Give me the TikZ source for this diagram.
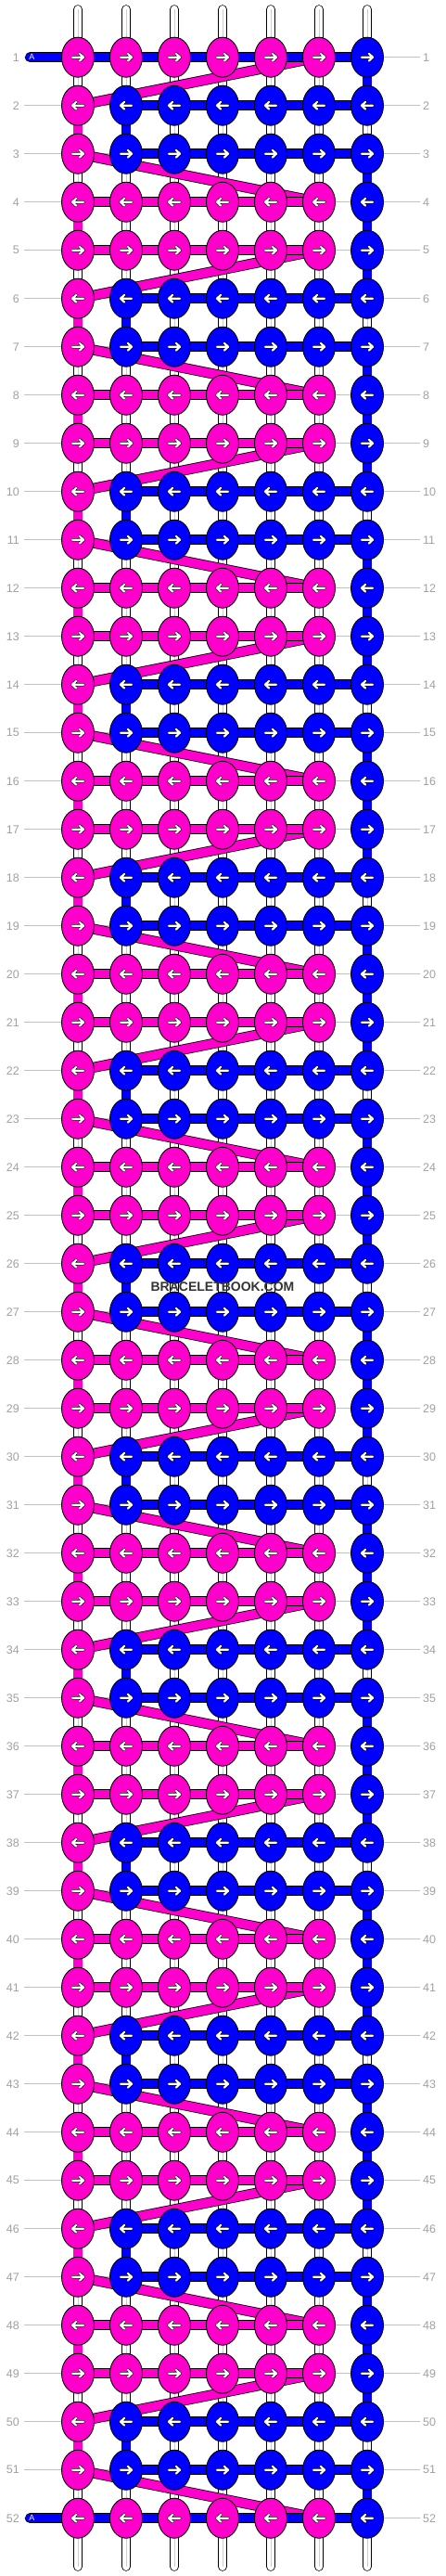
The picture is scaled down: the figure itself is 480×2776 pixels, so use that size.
\documentclass[tikz,border=0pt]{standalone}
\usepackage{fontspec}
\setmainfont{Liberation Sans}
\usepackage{tikz}
\usetikzlibrary{shapes.geometric}
\pgfdeclarelayer{strands}
\pgfdeclarelayer{bands}
\pgfdeclarelayer{links}
\pgfsetlayers{strands,bands,links,main}
\definecolor{braidpink}{RGB}{255,0,204}
\definecolor{braidblue}{RGB}{0,0,255}
\definecolor{labelgray}{RGB}{160,160,160}
\definecolor{linegray}{RGB}{192,192,192}
\definecolor{midgray}{RGB}{205,205,205}
\definecolor{markgray}{RGB}{51,51,51}
\tikzset{
	knot/.style={ellipse, draw=black, line width=0.9pt, minimum width=35pt, minimum height=43pt, inner sep=0pt},
	link/.style={draw=black, line width=0.8pt, double=#1, double distance=9.2pt},
	band/.style={draw=black, line width=0.8pt, double=braidpink, double distance=9.6pt},
	strand/.style={draw=black, line width=0.7pt, double=white, double distance=8.8pt, line cap=round},
	strandmid/.style={draw=midgray, line width=0.8pt},
	rowline/.style={draw=linegray, line width=0.9pt},
	rowlabel/.style={text=labelgray, font=\fontsize{12.5}{14}\selectfont, inner sep=0pt},
	arrowmark/.style={draw=black, line width=0.6pt, double=white, double distance=2.2pt, line cap=round, line join=round}
}
\newcommand\knotarrow[2]{\begin{scope}[shift={(#1.center)}, xscale=#2]
		\draw[arrowmark] (-6,0) -- (6,0) (2,-3.8) -- (6,0) -- (2,3.8);
	\end{scope}}

\begin{document}
\begin{tikzpicture}[x=1pt, y=-1pt]
	\useasboundingbox (0,0) rectangle (480,2776);
	
	\foreach \r in {1,...,52}{
		\pgfmathtruncatemacro\m{mod(\r-1,4)}
		\pgfmathsetmacro\y{61.7+52*(\r-1)}
		\pgfmathtruncatemacro\dir{ifthenelse(\m==0 || \m==2, 1, -1)}
		\foreach \c in {1,...,7}{
			\pgfmathsetmacro\x{84+52*(\c-1)}
			\pgfmathtruncatemacro\ispink{ifthenelse(\m==0 || \m==3, \c<7, \c==1)}
			\ifnum\ispink=1 \def\col{braidpink}\else\def\col{braidblue}\fi
			\node[knot, fill=\col] (k-\r-\c) at (\x,\y) {};
			\knotarrow{k-\r-\c}{\dir}
		}
		\node[rowlabel, anchor=east] (lbl-l-\r) at (21,\y) {\r};
		\node[rowlabel, anchor=west] (lbl-r-\r) at (456,\y) {\r};
	}
	
	\coordinate (a-1) at (32.4,61.7);
	\coordinate (a-52) at (32.4,2713.7);
	\node[text=white, font=\fontsize{9}{10}\selectfont, inner sep=0pt] (lbl-a-1) at (34.5,61.7) {A};
	\node[text=white, font=\fontsize{9}{10}\selectfont, inner sep=0pt] (lbl-a-52) at (34.5,2713.7) {A};
	
	\node[text=markgray, font=\bfseries\fontsize{14}{16}\selectfont, inner sep=0pt] (mark) at (240,1387) {BRACELETBOOK.COM};
	
	\begin{pgfonlayer}{strands}
		\foreach \r in {1,...,52}
			\draw[rowline] ([xshift=5pt]lbl-l-\r.east) -- ([xshift=-3pt]lbl-r-\r.west);
		\foreach \c in {1,...,7}{
			\pgfmathsetmacro\x{84+52*(\c-1)}
			\coordinate (top-\c) at (\x,10.3);
			\coordinate (bot-\c) at (\x,2765.7);
			\draw[strand] (top-\c) -- (bot-\c);
			\draw[strandmid] (top-\c) -- (bot-\c);
		}
	\end{pgfonlayer}
	
	\begin{pgfonlayer}{bands}
		\foreach \b in {0,...,12}{
			\pgfmathtruncatemacro\ra{4*\b+1}
			\pgfmathtruncatemacro\rb{4*\b+2}
			\pgfmathtruncatemacro\rc{4*\b+3}
			\pgfmathtruncatemacro\rd{4*\b+4}
			\draw[band] (k-\rb-1.center) -- (k-\ra-6.center);
			\draw[band] (k-\rc-1.center) -- (k-\rd-6.center);
		}
	\end{pgfonlayer}
	
	\begin{pgfonlayer}{links}
		\draw[link=braidblue, line cap=round] (a-1) -- (k-1-1.center);
		\draw[link=braidblue, line cap=round] (a-52) -- (k-52-1.center);
		\foreach \r in {1,...,52}{
			\pgfmathtruncatemacro\m{mod(\r-1,4)}
			\foreach \c [evaluate=\c as \n using int(\c+1)] in {1,...,6}{
				\pgfmathtruncatemacro\hl{ifthenelse(\r==1 || \r==52, 2, ifthenelse(\m==0 || \m==3, ifthenelse(\c<6, 1, 0), ifthenelse(\c>1, 2, 0)))}
				\ifnum\hl=1 \draw[link=braidpink] (k-\r-\c.center) -- (k-\r-\n.center);\fi
				\ifnum\hl=2 \draw[link=braidblue] (k-\r-\c.center) -- (k-\r-\n.center);\fi
			}
		}
		\foreach \r [evaluate=\r as \s using int(\r+1)] in {1,...,51}{
			\pgfmathtruncatemacro\m{mod(\r-1,4)}
			\foreach \c in {1,...,7}{
				\pgfmathtruncatemacro\vl{ifthenelse(\c==7, ifthenelse(\m==1, 0, 2), ifthenelse(\c==1, ifthenelse(\m==1 || \m==3, 1, 0), ifthenelse(\c==2 && \m==1, 2, 0)))}
				\ifnum\vl=1 \draw[link=braidpink] (k-\r-\c.center) -- (k-\s-\c.center);\fi
				\ifnum\vl=2 \draw[link=braidblue] (k-\r-\c.center) -- (k-\s-\c.center);\fi
			}
		}
	\end{pgfonlayer}
\end{tikzpicture}
\end{document}
